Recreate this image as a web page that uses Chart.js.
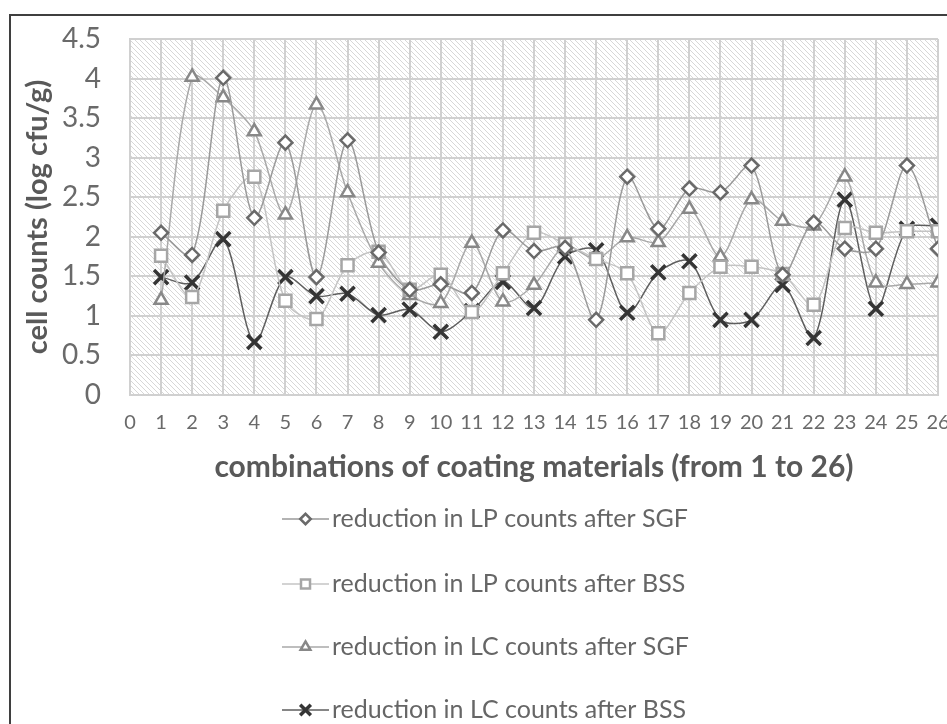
<!DOCTYPE html>
<html>
<head>
<meta charset="utf-8">
<script src="https://cdn.jsdelivr.net/npm/chart.js@4.4.0/dist/chart.umd.min.js"></script>
<style>
    html, body { margin: 0; padding: 0; background: #fff; overflow: hidden; }
    #frame {
        position: absolute; left: 9px; top: 14px;
        border: 2px solid #3f3f3f;
        width: 960px; height: 720px;
    }
</style>
</head>
<body>
<div id="frame"><canvas id="countsChart"></canvas></div>
<script>
// Данные графика
const combos = [1, 2, 3, 4, 5, 6, 7, 8, 9, 10, 11, 12, 13, 14, 15, 16, 17, 18, 19, 20, 21, 22, 23, 24, 25, 26];
const lpAfterSGF = [2.05, 1.77, 4.01, 2.24, 3.19, 1.49, 3.22, 1.80, 1.33, 1.40, 1.29, 2.08, 1.82, 1.86, 0.95, 2.76, 2.10, 2.61, 2.56, 2.90, 1.52, 2.18, 1.85, 1.85, 2.90, 1.85];
const lpAfterBSS = [1.76, 1.24, 2.33, 2.76, 1.19, 0.96, 1.64, 1.81, 1.33, 1.52, 1.05, 1.54, 2.05, 1.91, 1.72, 1.54, 0.78, 1.29, 1.62, 1.62, 1.53, 1.14, 2.11, 2.05, 2.07, 2.07];
const lcAfterSGF = [1.20, 4.02, 3.76, 3.33, 2.28, 3.67, 2.56, 1.67, 1.26, 1.16, 1.92, 1.18, 1.39, 1.88, 1.72, 1.99, 1.93, 2.35, 1.75, 2.47, 2.20, 2.14, 2.76, 1.42, 1.40, 1.42];
const lcAfterBSS = [1.49, 1.42, 1.97, 0.67, 1.49, 1.25, 1.28, 1.01, 1.08, 0.80, 1.06, 1.43, 1.10, 1.75, 1.83, 1.04, 1.55, 1.69, 0.95, 0.95, 1.39, 0.72, 2.47, 1.09, 2.10, 2.14];
const seriesNames = [
    'reduction in LP counts after SGF',
    'reduction in LP counts after BSS',
    'reduction in LC counts after SGF',
    'reduction in LC counts after BSS'
];
const xTitle = 'combinations of coating materials (from 1 to 26)';
const yTitle = 'cell counts (log cfu/g)';

const FONT = 'Lato, "Open Sans", sans-serif';

function toPoints(values) {
    return combos.map((c, i) => ({ x: c, y: values[i] }));
}

// Штриховка фона области построения
const hatchPlugin = {
    id: 'hatch',
    beforeDraw(chart) {
        const { ctx, chartArea: a } = chart;
        const tile = document.createElement('canvas');
        tile.width = 5; tile.height = 5;
        const t = tile.getContext('2d');
        t.strokeStyle = '#d7d7d7';
        t.lineWidth = 1;
        t.beginPath();
        t.moveTo(-1, -1); t.lineTo(6, 6);
        t.moveTo(-1, 4); t.lineTo(1, 6);
        t.moveTo(4, -1); t.lineTo(6, 1);
        t.stroke();
        ctx.save();
        ctx.fillStyle = '#ffffff';
        ctx.fillRect(a.left, a.top, a.right - a.left, a.bottom - a.top);
        ctx.fillStyle = ctx.createPattern(tile, 'repeat');
        ctx.fillRect(a.left, a.top, a.right - a.left, a.bottom - a.top);
        ctx.restore();
    }
};

// Легенда столбиком под графиком
const stackedLegend = {
    id: 'stackedLegend',
    afterDraw(chart) {
        const { ctx } = chart;
        const rows = [503, 568, 631, 694];
        const x0 = 271, x1 = 318, tx = 321;
        ctx.save();
        chart.data.datasets.forEach((ds, i) => {
            const y = rows[i];
            ctx.strokeStyle = ds.borderColor;
            ctx.lineWidth = 1.5;
            ctx.beginPath();
            ctx.moveTo(x0, y); ctx.lineTo(x1, y);
            ctx.stroke();
            ctx.fillStyle = '#ffffff';
            ctx.strokeStyle = ds.pointBorderColor;
            ctx.lineWidth = ds.pointBorderWidth;
            Chart.helpers.drawPoint(ctx, {
                pointStyle: ds.pointStyle,
                radius: ds.pointRadius * 0.75,
                rotation: 0,
                borderWidth: ds.pointBorderWidth
            }, (x0 + x1) / 2, y);
            ctx.fillStyle = '#666666';
            ctx.font = '25px ' + FONT;
            ctx.textBaseline = 'middle';
            ctx.textAlign = 'left';
            ctx.fillText(ds.label, tx, y);
        });
        ctx.restore();
    }
};

function makeDataset(i, values, style, radius, lineColor, markColor, bw) {
    return {
        label: seriesNames[i],
        data: toPoints(values),
        borderColor: lineColor,
        borderWidth: 1.5,
        pointStyle: style,
        pointRadius: radius,
        pointHoverRadius: radius,
        pointBorderColor: markColor,
        pointBackgroundColor: '#ffffff',
        pointBorderWidth: bw,
        tension: 0.3
    };
}

const ctx = document.getElementById('countsChart').getContext('2d');
const countsChart = new Chart(ctx, {
    type: 'line',
    data: {
        datasets: [
            makeDataset(0, lpAfterSGF, 'rectRot', 7, '#9a9a9a', '#6a6a6a', 2.5),
            makeDataset(1, lpAfterBSS, 'rect', 8.5, '#c4c4c4', '#a6a6a6', 2.5),
            makeDataset(2, lcAfterSGF, 'triangle', 7.5, '#a9a9a9', '#888888', 2.5),
            makeDataset(3, lcAfterBSS, 'crossRot', 10, '#5e5e5e', '#353535', 3.5)
        ]
    },
    options: {
        responsive: true,
        maintainAspectRatio: false,
        animation: false,
        layout: { padding: { left: 9, top: 23, right: 33, bottom: 251 } },
        plugins: {
            legend: { display: false },
            tooltip: { enabled: false }
        },
        scales: {
            x: {
                type: 'linear',
                min: 0,
                max: 26,
                afterFit(s) { s.height = 90; },
                ticks: {
                    stepSize: 1,
                    padding: 16,
                    color: '#6a6a6a',
                    font: { family: FONT, size: 20 }
                },
                grid: { color: '#d0d0d0', lineWidth: 2, drawTicks: false },
                border: { color: '#d0d0d0', width: 2 },
                title: {
                    display: true,
                    text: xTitle,
                    color: '#595959',
                    padding: { top: 0, bottom: 0 },
                    font: { family: FONT, size: 30, weight: 'bold' }
                }
            },
            y: {
                min: 0,
                max: 4.5,
                afterFit(s) { s.width = 110; },
                ticks: {
                    stepSize: 0.5,
                    padding: 0,
                    color: '#6a6a6a',
                    font: { family: FONT, size: 28 },
                    callback: (v) => String(Math.round(v * 10) / 10)
                },
                grid: {
                    color: '#d0d0d0', lineWidth: 2,
                    drawTicks: true, tickLength: 29, tickColor: 'rgba(0,0,0,0)'
                },
                border: { color: '#d0d0d0', width: 2 },
                title: {
                    display: true,
                    text: yTitle,
                    color: '#595959',
                    padding: { top: 0, bottom: 0 },
                    font: { family: FONT, size: 29, weight: 'bold' }
                }
            }
        }
    },
    plugins: [hatchPlugin, stackedLegend]
});
</script>
</body>
</html>
